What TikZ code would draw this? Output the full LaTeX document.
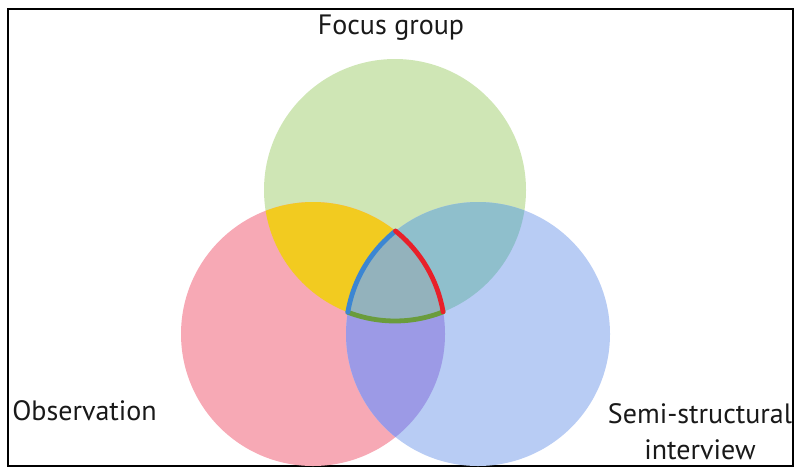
\documentclass[tikz,border=0pt]{standalone}
\usepackage{fontspec}
\setmainfont{PT Sans}
\begin{document}
\begin{tikzpicture}[x=0.75pt, y=-0.75pt,
  label/.style={font=\fontsize{21}{27}\selectfont, inner sep=0pt, text=black!90},
  edgearc/.style={line width=3.6pt, line cap=round}]
\definecolor{cgreen}{HTML}{CFE6B5}
\definecolor{cred}{HTML}{F7A9B5}
\definecolor{cblue}{HTML}{B8CCF4}
\definecolor{cyellow}{HTML}{F2CB20}
\definecolor{cteal}{HTML}{8FBFCC}
\definecolor{cpurple}{HTML}{9C9AE6}
\definecolor{ccenter}{HTML}{93B2BC}
\definecolor{lblue}{HTML}{3C86D2}
\definecolor{lred}{HTML}{E8202A}
\definecolor{lgreen}{HTML}{6A9C3C}
\useasboundingbox (0,0) rectangle (795,469);

% circle centres
\coordinate (G) at (395,190);
\coordinate (R) at (313,334);
\coordinate (B) at (478,334);
% corners of the central curved triangle
\coordinate (A) at (395.5,231.0);
\coordinate (P) at (347.8,312.2);
\coordinate (Q) at (443.1,311.8);

% frame
\draw[line width=1.5pt] (8,9) rectangle (793,466);

% the three sets
\fill[cgreen] (G) circle[radius=131];
\fill[cred] (R) circle[radius=132];
\fill[cblue] (B) circle[radius=132];

% pairwise overlaps
\begin{scope}
  \clip (G) circle[radius=131];
  \fill[cyellow] (R) circle[radius=132];
  \fill[cteal] (B) circle[radius=132];
\end{scope}
\begin{scope}
  \clip (R) circle[radius=132];
  \fill[cpurple] (B) circle[radius=132];
\end{scope}
% common part of all three
\begin{scope}
  \clip (G) circle[radius=131];
  \clip (R) circle[radius=132];
  \fill[ccenter] (B) circle[radius=132];
\end{scope}

% outlined edges of the common part
\draw[edgearc, lgreen] (P) arc[start angle=111.1, end angle=68.45, radius=131];
\draw[edgearc, lblue] (A) arc[start angle=231.3, end angle=189.5, radius=132];
\draw[edgearc, lred] (A) arc[start angle=-51.3, end angle=-9.7, radius=132];

% labels
\node[label] (focus) at (391,28) {Focus group};
\node[label, anchor=west] (obs) at (12,411) {Observation};
\node[label, align=center] (semi) at (700,432) {Semi-structural\\interview};
\end{tikzpicture}
\end{document}
